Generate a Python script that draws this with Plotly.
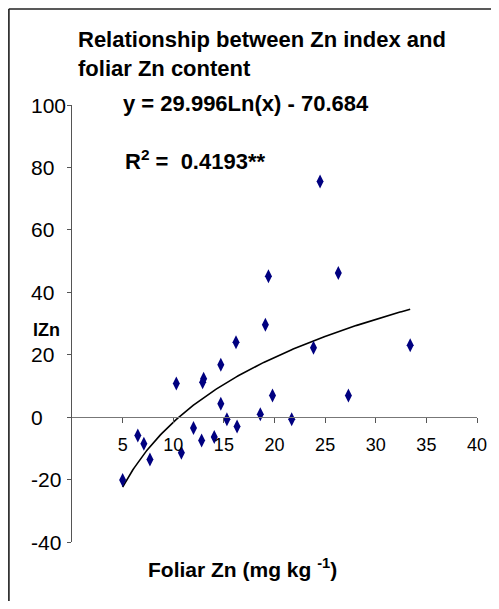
import numpy as np
import plotly.graph_objects as go

# Data
foliar_zn = [5.0, 6.5, 7.1, 7.7, 10.3, 10.8, 12.0, 12.8, 12.9, 13.0, 14.05, 14.7, 14.7,
             15.3, 16.2, 16.3, 18.6, 19.1, 19.4, 19.8, 21.7, 23.85, 24.5, 26.3, 27.3, 33.4]
izn = [-20.1, -5.9, -8.5, -13.6, 10.8, -11.4, -3.5, -7.5, 11.2, 12.3, -6.4, 16.8, 4.3,
       -0.7, 24.0, -3.0, 0.9, 29.6, 45.1, 6.9, -0.7, 22.2, 75.5, 46.2, 6.9, 23.0]

# Trendline coefficients stated on the chart: y = a*ln(x) + b
coef_a = 29.996
coef_b = -70.684

x_ticks = [5, 10, 15, 20, 25, 30, 35, 40]
y_ticks = [-40, -20, 0, 20, 40, 60, 80, 100]
x_range = [0, 40]
y_range = [-40, 100]

# page body has an 8px margin, so the figure starts 8px in from the window edge
OFF = 8
W, H = 499 - OFF, 609 - 2 * OFF
L, R, T, B = 72, 482, 105, 542  # plot area in window pixels


def px_x(p):
    return (p - L) / (R - L)


def px_y(p):
    return (B - p) / (B - T)


FONT = "Liberation Sans, Arial, sans-serif"

fig = go.Figure()

xs = np.linspace(min(foliar_zn), max(foliar_zn), 200)
ys = coef_a * np.log(xs) + coef_b
fig.add_trace(go.Scatter(x=xs, y=ys, mode="lines",
                         line=dict(color="black", width=1.6), hoverinfo="skip"))

fig.add_trace(go.Scatter(x=foliar_zn, y=izn, mode="markers",
                         marker=dict(symbol="diamond-tall", size=10, color="#000080",
                                     line=dict(width=0))))

annotations = []
for v in y_ticks:
    annotations.append(dict(x=px_x(28), xref="paper", y=v, yref="y", xanchor="left",
                            yanchor="middle", text=str(v), showarrow=False,
                            font=dict(family=FONT, size=21, color="black")))

annotations += [
    dict(x=px_x(76), xref="paper", y=px_y(54), yref="paper", xanchor="left", yanchor="middle",
         text="<b>Relationship between Zn index and<br>foliar Zn content</b>", showarrow=False,
         align="left", font=dict(family=FONT, size=22, color="black")),
    dict(x=px_x(122), xref="paper", y=px_y(104), yref="paper", xanchor="left", yanchor="middle",
         text="<b>y = 29.996Ln(x) - 70.684</b>", showarrow=False,
         font=dict(family=FONT, size=22, color="black")),
    dict(x=px_x(124), xref="paper", y=px_y(160), yref="paper", xanchor="left", yanchor="middle",
         text="<b>R<sup>2</sup> =&nbsp; 0.4193**</b>", showarrow=False,
         font=dict(family=FONT, size=22, color="black")),
    dict(x=px_x(30), xref="paper", y=px_y(330), yref="paper", xanchor="left", yanchor="middle",
         text="<b>IZn</b>", showarrow=False,
         font=dict(family=FONT, size=18, color="black")),
    dict(x=px_x(245), xref="paper", y=px_y(568), yref="paper", xanchor="center", yanchor="middle",
         text="<b>Foliar Zn (mg kg <sup>-1</sup>)</b>", showarrow=False,
         font=dict(family=FONT, size=21, color="black")),
]

shapes = [
    dict(type="line", xref="paper", yref="paper", x0=px_x(8), x1=px_x(8), y0=px_y(9), y1=px_y(640),
         line=dict(color="#333333", width=2)),
    dict(type="line", xref="paper", yref="paper", x0=px_x(8), x1=px_x(498), y0=px_y(9), y1=px_y(9),
         line=dict(color="#222222", width=1.5)),
    dict(type="line", xref="paper", yref="paper", x0=px_x(497.5), x1=px_x(497.5), y0=px_y(9), y1=px_y(640),
         line=dict(color="#999999", width=2)),
]

fig.update_layout(
    width=W, height=H,
    margin=dict(l=L - OFF, r=(W + OFF) - R, t=T - OFF, b=(H + OFF) - B),
    paper_bgcolor="white", plot_bgcolor="white",
    showlegend=False,
    annotations=annotations,
    shapes=shapes,
    xaxis=dict(range=x_range, tickvals=x_ticks, ticks="outside", ticklen=5,
               tickcolor="#555555", showline=True, linecolor="#777777", linewidth=1,
               showgrid=False, zeroline=False, anchor="free",
               position=(0 - y_range[0]) / (y_range[1] - y_range[0]),
               ticklabelstandoff=6,
               tickfont=dict(family=FONT, size=18, color="black")),
    yaxis=dict(range=y_range, tickvals=y_ticks, ticks="outside", ticklen=4,
               tickcolor="#555555", showline=True, linecolor="#555555", linewidth=1,
               showgrid=False, zeroline=False, showticklabels=False),
)

fig.write_html("out.html")
